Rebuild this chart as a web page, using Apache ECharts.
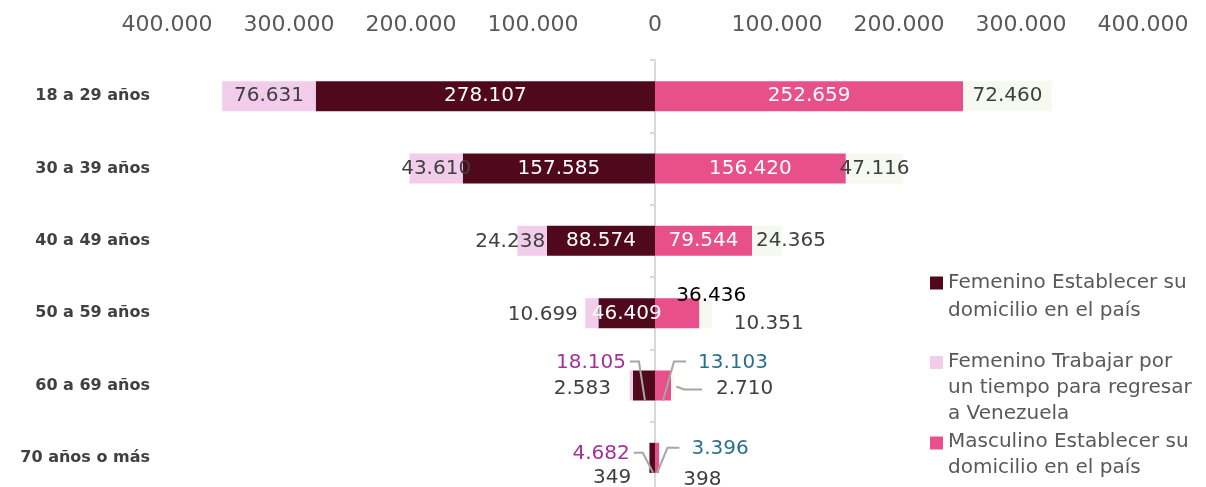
<!DOCTYPE html>
<html>
<head>
<meta charset="utf-8">
<script src="https://cdn.jsdelivr.net/npm/echarts@6/dist/echarts.min.js"></script>
<style>
  html, body { margin: 0; padding: 0; background: #fff; }
  #main { width: 1206px; height: 487px; }
</style>
</head>
<body>
<div id="main"></div>
<script>
// datos por grupo de edad
const categorias = ['18 a 29 años', '30 a 39 años', '40 a 49 años', '50 a 59 años', '60 a 69 años', '70 años o más'];
const femEstablecer = [278107, 157585, 88574, 46409, 18105, 4682];
const femTrabajar = [76631, 43610, 24238, 10699, 2583, 349];
const mascEstablecer = [252659, 156420, 79544, 36436, 13103, 3396];
const mascTrabajar = [72460, 47116, 24365, 10351, 2710, 398];
const ejeMin = -400000, ejeMax = 400000, ejeIntervalo = 100000;

const nombres = [
  'Femenino Establecer su\ndomicilio en el país',
  'Femenino Trabajar por\nun tiempo para regresar\na Venezuela',
  'Masculino Establecer su\ndomicilio en el país',
  'Masculino Trabajar por\nun tiempo para regresar\na Venezuela'
];
const colores = ['#50091c', '#f1cdeb', '#e8508b', '#f5f9ef'];
const FONT = 'DejaVu Sans';

// desplazamiento de etiquetas (dx, dy) por serie y fila
const desplazamientos = [
  [[0, 0], [0, 0], [0, 0], [0, 1], [-53, -23], [-51, -4]],
  [[0, 0], [0, 0], [-22, 1], [-49, 2], [-49, 3], [-37, 20]],
  [[0, 0], [0, 0], [0, 0], [34, -17], [70, -23], [63, -9]],
  [[0, 0], [0, 0], [24, 0], [63, 11], [72, 3], [43, 22]]
];
// color de etiquetas
const coloresEtiqueta = [
  ['#fff', '#fff', '#fff', '#fff', '#a3309b', '#a3309b'],
  ['#404040', '#404040', '#404040', '#404040', '#404040', '#404040'],
  ['#fff', '#fff', '#fff', '#000', '#2b6f8f', '#2b6f8f'],
  ['#404040', '#404040', '#404040', '#404040', '#404040', '#404040']
];
// lineas guia: 'abajo' = baja al borde inferior de la barra, 'lado' = al costado
const lineas = [
  [null, null, null, null, 'abajo', 'abajo'],
  [null, null, null, null, null, null],
  [null, null, null, null, 'abajo', 'abajo'],
  [null, null, null, null, 'lado', null]
];

function fmt(v) {
  return Math.abs(v).toString().replace(/\B(?=(\d{3})+(?!\d))/g, '.');
}

function serie(idx, valores, signo) {
  return {
    name: nombres[idx],
    type: 'bar',
    stack: 'total',
    barWidth: 30,
    itemStyle: { color: colores[idx] },
    label: {
      show: true,
      position: 'inside',
      fontFamily: FONT,
      fontSize: 20,
      formatter: p => fmt(p.value)
    },
    labelLayout: p => {
      const d = desplazamientos[idx][p.dataIndex];
      return { dx: d[0], dy: d[1] };
    },
    data: valores.map((v, i) => ({
      value: signo * v,
      label: { color: coloresEtiqueta[idx][i] }
    }))
  };
}

// icono cuadrado alineado con la primera linea del texto
function icono(alto) {
  const k = (alto / 1.3 - 0.01).toFixed(2);
  return 'path://M0,0H10V10H0Z M0,' + k + 'H0.01V' + (parseFloat(k) + 0.01).toFixed(2) + 'H0Z';
}

function leyenda(i, top, alto, lh) {
  return {
    data: [{ name: nombres[i], icon: icono(alto) }],
    orient: 'vertical',
    left: 925,
    top: top,
    itemWidth: 13,
    itemHeight: alto,
    itemGap: 0,
    textStyle: { fontFamily: FONT, fontSize: 20, color: '#595959', lineHeight: lh }
  };
}

const chart = echarts.init(document.getElementById('main'));

const option = {
  backgroundColor: '#ffffff',
  animation: false,
  grid: { left: 167, right: 63, top: 60, height: 434, containLabel: false, outerBoundsMode: 'none' },
  legend: [
    leyenda(0, 264, 41, 28),
    leyenda(1, 344, 64, 26),
    leyenda(2, 424, 37, 26)
  ],
  xAxis: {
    type: 'value',
    position: 'top',
    min: ejeMin,
    max: ejeMax,
    interval: ejeIntervalo,
    splitLine: { show: false },
    axisLine: { show: false },
    axisTick: { show: false },
    axisLabel: {
      margin: 24,
      fontFamily: FONT,
      fontSize: 22,
      color: '#595959',
      formatter: v => fmt(v)
    }
  },
  yAxis: [{
    type: 'category',
    data: categorias,
    inverse: true,
    axisLine: { show: false, onZero: false },
    axisTick: { show: false },
    axisLabel: {
      margin: 17,
      fontFamily: FONT,
      fontSize: 16,
      fontWeight: 'bold',
      color: '#404040'
    }
  }, {
    type: 'category',
    data: categorias,
    inverse: true,
    position: 'left',
    axisLine: { show: true, onZero: true, lineStyle: { color: '#d9d9d9', width: 2 } },
    axisTick: { show: true, length: 5, lineStyle: { color: '#d9d9d9', width: 2 } },
    axisLabel: { show: false }
  }],
  series: [
    serie(0, femEstablecer, -1),
    serie(1, femTrabajar, -1),
    serie(2, mascEstablecer, 1),
    serie(3, mascTrabajar, 1)
  ]
};

chart.setOption(option);

// lineas guia de las etiquetas desplazadas, calculadas con las escalas del grafico
const ctx = document.createElement('canvas').getContext('2d');
ctx.font = '20px "' + FONT + '"';

function rectBarra(idx, i) {
  let a, b;
  if (idx === 0) { a = 0; b = -femEstablecer[i]; }
  else if (idx === 1) { a = -femEstablecer[i]; b = -femEstablecer[i] - femTrabajar[i]; }
  else if (idx === 2) { a = 0; b = mascEstablecer[i]; }
  else { a = mascEstablecer[i]; b = mascEstablecer[i] + mascTrabajar[i]; }
  const xa = chart.convertToPixel({ xAxisIndex: 0 }, a);
  const xb = chart.convertToPixel({ xAxisIndex: 0 }, b);
  const yc = chart.convertToPixel({ yAxisIndex: 0 }, categorias[i]);
  return { x: Math.min(xa, xb), y: yc - 15, width: Math.abs(xb - xa), height: 30 };
}

const valoresSerie = [femEstablecer, femTrabajar, mascEstablecer, mascTrabajar];
const guias = [];
lineas.forEach((fila, idx) => {
  fila.forEach((tipo, i) => {
    if (!tipo) return;
    const r = rectBarra(idx, i);
    const d = desplazamientos[idx][i];
    const w = ctx.measureText(fmt(valoresSerie[idx][i])).width;
    const cx = r.x + r.width / 2 + d[0];
    const cy = r.y + r.height / 2 + d[1];
    const izq = cx - w / 2, der = cx + w / 2;
    let pts;
    if (tipo === 'abajo' && cx < r.x) {
      pts = [[der + 4, cy - 1], [der + 13, cy - 1], [r.x + r.width / 2 + 1, r.y + r.height]];
    } else if (tipo === 'abajo') {
      pts = [[izq - 12, cy - 1], [izq - 24, cy - 1], [r.x + r.width / 2, r.y + r.height]];
    } else {
      pts = [[izq - 14, cy + 1], [izq - 32, cy + 1], [r.x + r.width + 2, r.y + r.height / 2 + 1]];
    }
    guias.push({
      type: 'polyline',
      z: 100,
      shape: { points: pts },
      style: { stroke: '#a6a6a6', lineWidth: 2, fill: null }
    });
  });
});

chart.setOption({ graphic: guias });
</script>
</body>
</html>
